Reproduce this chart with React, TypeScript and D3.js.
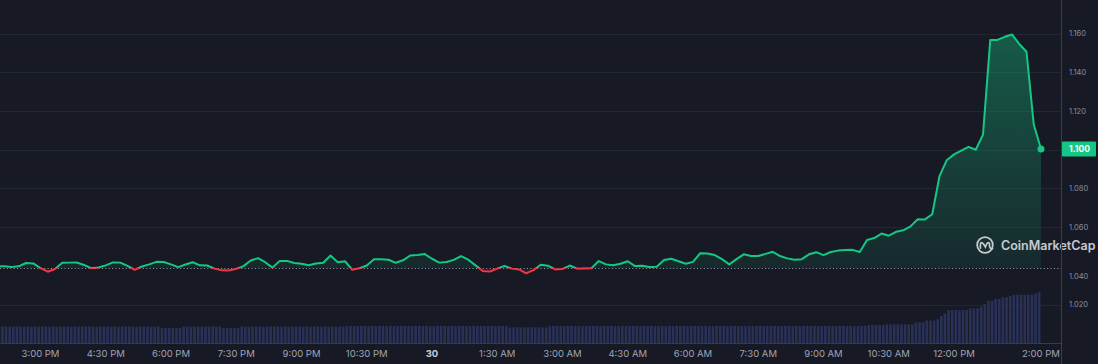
import React, { useEffect, useRef } from 'react';
import * as d3 from 'd3';

// 24h window, 2:00 PM (29th) -> 2:00 PM (30th)
const startTime = new Date(2024, 3, 29, 14, 0);
const priceStepMin = 10;
const volumeStepMin = 5;

// price every 10 minutes
const prices = [
  1.0398, 1.0398, 1.0395, 1.0398, 1.0415, 1.0413, 1.0389, 1.0370, 1.0384, 1.0416, 1.0417, 1.0418,
  1.0405, 1.0388, 1.0392, 1.0403, 1.0418, 1.0417, 1.0400, 1.0380, 1.0397, 1.0408, 1.0421, 1.0420,
  1.0408, 1.0394, 1.0407, 1.0419, 1.0403, 1.0402, 1.0386, 1.0377, 1.0376, 1.0385, 1.0399, 1.0428,
  1.0440, 1.0419, 1.0391, 1.0426, 1.0426, 1.0415, 1.0411, 1.0403, 1.0412, 1.0416, 1.0454, 1.0419,
  1.0424, 1.0380, 1.0388, 1.0402, 1.0435, 1.0435, 1.0432, 1.0416, 1.0429, 1.0454, 1.0456, 1.0461,
  1.0437, 1.0417, 1.0420, 1.0431, 1.0451, 1.0432, 1.0403, 1.0374, 1.0371, 1.0386, 1.0400, 1.0386,
  1.0382, 1.0362, 1.0378, 1.0406, 1.0401, 1.0382, 1.0384, 1.0402, 1.0386, 1.0387, 1.0388, 1.0425,
  1.0408, 1.0403, 1.0411, 1.0424, 1.0399, 1.0401, 1.0394, 1.0396, 1.0430, 1.0437, 1.0424, 1.0411,
  1.0421, 1.0466, 1.0464, 1.0456, 1.0435, 1.0408, 1.0435, 1.0460, 1.0451, 1.0451, 1.0462, 1.0473,
  1.0451, 1.0439, 1.0432, 1.0435, 1.0460, 1.0471, 1.0456, 1.0472, 1.0479, 1.0482, 1.0483, 1.0472,
  1.0534, 1.0544, 1.0567, 1.0556, 1.0576, 1.0584, 1.0604, 1.0641, 1.0640, 1.0667, 1.0864, 1.0946,
  1.0976, 1.0995, 1.1015, 1.1000, 1.1078, 1.1566, 1.1567, 1.1583, 1.1595, 1.1546, 1.1506, 1.1130,
  1.1004,
];

// volume every 5 minutes (millions)
const volumes = [
  1.65, 1.66, 1.64, 1.65, 1.65, 1.66, 1.65, 1.64, 1.65, 1.66, 1.65, 1.65,
  1.65, 1.64, 1.65, 1.66, 1.65, 1.65, 1.64, 1.65, 1.66, 1.65, 1.65, 1.64,
  1.65, 1.66, 1.65, 1.65, 1.64, 1.65, 1.66, 1.65, 1.65, 1.64, 1.65, 1.66,
  1.65, 1.65, 1.64, 1.65, 1.66, 1.65, 1.65, 1.64, 1.65, 1.50, 1.50, 1.51,
  1.50, 1.50, 1.51, 1.65, 1.64, 1.65, 1.66, 1.65, 1.65, 1.64, 1.65, 1.66,
  1.65, 1.65, 1.50, 1.51, 1.50, 1.50, 1.51, 1.65, 1.64, 1.65, 1.66, 1.65,
  1.65, 1.64, 1.65, 1.66, 1.65, 1.65, 1.64, 1.65, 1.66, 1.65, 1.65, 1.64,
  1.65, 1.66, 1.65, 1.65, 1.64, 1.65, 1.66, 1.65, 1.65, 1.64, 1.65, 1.66,
  1.70, 1.71, 1.70, 1.69, 1.70, 1.71, 1.70, 1.70, 1.69, 1.70, 1.71, 1.70,
  1.70, 1.69, 1.70, 1.71, 1.70, 1.70, 1.69, 1.70, 1.71, 1.70, 1.70, 1.69,
  1.70, 1.71, 1.70, 1.70, 1.69, 1.70, 1.71, 1.70, 1.70, 1.69, 1.70, 1.71,
  1.70, 1.70, 1.69, 1.70, 1.71, 1.70, 1.70, 1.69, 1.70, 1.57, 1.57, 1.58,
  1.57, 1.56, 1.57, 1.58, 1.57, 1.57, 1.56, 1.57, 1.70, 1.71, 1.70, 1.70,
  1.69, 1.70, 1.71, 1.70, 1.70, 1.69, 1.70, 1.71, 1.70, 1.70, 1.69, 1.70,
  1.71, 1.70, 1.70, 1.69, 1.70, 1.71, 1.70, 1.70, 1.69, 1.70, 1.71, 1.70,
  1.70, 1.69, 1.70, 1.71, 1.70, 1.70, 1.69, 1.70, 1.71, 1.70, 1.70, 1.69,
  1.70, 1.71, 1.70, 1.70, 1.69, 1.70, 1.71, 1.70, 1.70, 1.69, 1.70, 1.71,
  1.70, 1.70, 1.69, 1.70, 1.71, 1.70, 1.70, 1.69, 1.70, 1.71, 1.70, 1.70,
  1.69, 1.70, 1.71, 1.70, 1.70, 1.69, 1.70, 1.71, 1.70, 1.70, 1.69, 1.70,
  1.71, 1.70, 1.70, 1.69, 1.70, 1.71, 1.70, 1.70, 1.69, 1.70, 1.71, 1.70,
  1.80, 1.80, 1.81, 1.80, 1.80, 1.87, 1.87, 1.87, 1.87, 1.87, 1.87, 1.87,
  1.87, 2.07, 2.07, 2.07, 2.25, 2.25, 2.25, 2.37, 2.70, 2.97, 3.30, 3.30,
  3.30, 3.30, 3.30, 3.30, 3.47, 3.47, 3.47, 3.63, 3.90, 4.23, 4.23, 4.40,
  4.40, 4.57, 4.57, 4.70, 4.83, 4.83, 4.83, 4.83, 4.83, 4.83, 4.97, 5.10,
];

const openPrice = 1.0389;
const yTicks = [1.02, 1.04, 1.06, 1.08, 1.1, 1.12, 1.14, 1.16];
// hours after the start of the window
const xTickHours = [1, 2.5, 4, 5.5, 7, 8.5, 10, 11.5, 13, 14.5, 16, 17.5, 19, 20.5, 22, 24];

const BG = '#171924';
const GREEN = '#16c784';
const RED = '#ea3943';
const W = 1098;
const H = 364;
const plotRight = 1061.5;
const plotBottom = 343;

const App = () => {
  const svgRef = useRef<SVGSVGElement>(null);

  useEffect(() => {
    document.body.style.margin = '0';
    document.body.style.background = BG;
    const svg = d3.select(svgRef.current);
    svg.selectAll('*').remove();

    const endTime = d3.timeMinute.offset(startTime, 24 * 60);
    const x = d3.scaleTime().domain([startTime, endTime]).range([-3, 1041]);
    const y = d3.scaleLinear().domain([1.0002, 1.1773]).range([plotBottom, 0]);
    const yVol = d3.scaleLinear().domain([0, 6]).range([plotBottom, plotBottom - 60]);

    const priceData = prices.map((p, i) => ({ t: d3.timeMinute.offset(startTime, i * priceStepMin), p }));
    const yBase = y(openPrice);
    const last = priceData[priceData.length - 1];

    const defs = svg.append('defs');
    defs.append('clipPath').attr('id', 'clip-up')
      .append('rect').attr('x', 0).attr('y', 0).attr('width', plotRight).attr('height', yBase);
    defs.append('clipPath').attr('id', 'clip-down')
      .append('rect').attr('x', 0).attr('y', yBase).attr('width', plotRight).attr('height', plotBottom - yBase);

    const gGreen = defs.append('linearGradient').attr('id', 'g-green')
      .attr('gradientUnits', 'userSpaceOnUse').attr('x1', 0).attr('y1', 0).attr('x2', 0).attr('y2', plotBottom);
    gGreen.append('stop').attr('offset', 0).attr('stop-color', GREEN).attr('stop-opacity', 0.42);
    gGreen.append('stop').attr('offset', 1).attr('stop-color', GREEN).attr('stop-opacity', 0);
    const gRed = defs.append('linearGradient').attr('id', 'g-red')
      .attr('gradientUnits', 'userSpaceOnUse').attr('x1', 0).attr('y1', yBase).attr('x2', 0).attr('y2', plotBottom);
    gRed.append('stop').attr('offset', 0).attr('stop-color', RED).attr('stop-opacity', 0.05);
    gRed.append('stop').attr('offset', 1).attr('stop-color', RED).attr('stop-opacity', 0.3);

    svg.append('rect').attr('width', W).attr('height', H).attr('fill', BG);

    // grid lines (the one sitting on the open-price line is hidden)
    const nearBase = (v: number) => Math.abs(y(v) - yBase) < 6;
    svg.append('g').selectAll('line')
      .data(yTicks.filter(v => !nearBase(v)))
      .join('line')
      .attr('x1', 0).attr('x2', plotRight)
      .attr('y1', d => Math.round(y(d)) + 0.5).attr('y2', d => Math.round(y(d)) + 0.5)
      .attr('stroke', '#222532').attr('stroke-width', 1);

    // volume bars
    svg.append('g').selectAll('rect')
      .data(volumes)
      .join('rect')
      .attr('x', (d, j) => x(d3.timeMinute.offset(startTime, j * volumeStepMin)) + 0.5)
      .attr('width', (d, j) => {
        const t = d3.timeMinute.offset(startTime, j * volumeStepMin);
        return x(d3.timeMinute.offset(t, volumeStepMin)) - x(t) - 1;
      })
      .attr('y', d => yVol(d))
      .attr('height', d => plotBottom - yVol(d))
      .attr('fill', '#293157');

    const area = d3.area<{ t: Date; p: number }>()
      .x(d => x(d.t)).y0(yBase).y1(d => y(d.p));
    const line = d3.line<{ t: Date; p: number }>()
      .x(d => x(d.t)).y(d => y(d.p));

    svg.append('path').attr('d', area(priceData)).attr('fill', 'url(#g-green)').attr('clip-path', 'url(#clip-up)');
    svg.append('path').attr('d', area(priceData)).attr('fill', 'url(#g-red)').attr('clip-path', 'url(#clip-down)');

    // open price dotted line
    svg.append('line')
      .attr('x1', 0).attr('x2', plotRight)
      .attr('y1', Math.round(yBase) + 0.5).attr('y2', Math.round(yBase) + 0.5)
      .attr('stroke', '#9a9fb0').attr('stroke-width', 1).attr('stroke-dasharray', '1 2.4');

    svg.append('path').attr('d', line(priceData)).attr('fill', 'none')
      .attr('stroke', GREEN).attr('stroke-width', 2).attr('stroke-linejoin', 'round')
      .attr('clip-path', 'url(#clip-up)');
    svg.append('path').attr('d', line(priceData)).attr('fill', 'none')
      .attr('stroke', RED).attr('stroke-width', 2).attr('stroke-linejoin', 'round')
      .attr('clip-path', 'url(#clip-down)');

    svg.append('circle').attr('cx', x(last.t)).attr('cy', y(last.p)).attr('r', 3.5).attr('fill', GREEN);

    // watermark
    const wm = svg.append('g').attr('transform', 'translate(985,245)').attr('opacity', 0.85);
    wm.append('circle').attr('r', 7.8).attr('fill', 'none').attr('stroke', '#e4e6ec').attr('stroke-width', 1.8);
    wm.append('path')
      .attr('d', 'M-4.6,3.2 L-4.6,0 Q-4.4,-4.2 -1.6,-1.2 L0.4,2 Q2.6,-4.6 4.4,-1.4 L4.6,1.6 Q5.4,4.4 7.6,3.6')
      .attr('fill', 'none').attr('stroke', '#e4e6ec').attr('stroke-width', 1.7).attr('stroke-linecap', 'round');
    svg.append('text').attr('x', 1001).attr('y', 250)
      .style('font-family', 'Inter, sans-serif').style('font-size', '12.5px').style('font-weight', 600)
      .attr('fill', '#e4e6ec').attr('opacity', 0.85)
      .text('CoinMarketCap');

    // axis borders
    svg.append('line').attr('x1', 0).attr('x2', plotRight).attr('y1', plotBottom + 0.5).attr('y2', plotBottom + 0.5)
      .attr('stroke', '#363a4a');
    svg.append('line').attr('x1', plotRight).attr('x2', plotRight).attr('y1', 0).attr('y2', H)
      .attr('stroke', '#3a3e4e');

    // y labels (the one under the last-price tag is covered by it)
    svg.append('g').selectAll('text')
      .data(yTicks.filter(v => Math.abs(y(v) - y(last.p)) > 9))
      .join('text')
      .attr('x', 1069)
      .attr('y', d => y(d) + (nearBase(d) ? 10 : 0))
      .attr('dy', '0.35em')
      .style('font-family', 'Inter, sans-serif').style('font-size', '7.5px')
      .attr('fill', '#8b90a2')
      .text(d => d3.format('.3f')(d));

    // last price tag
    svg.append('rect').attr('x', plotRight + 0.5).attr('y', y(last.p) - 7.5).attr('width', 34).attr('height', 15)
      .attr('rx', 1).attr('fill', GREEN);
    svg.append('text').attr('x', 1069).attr('y', y(last.p)).attr('dy', '0.35em')
      .style('font-family', 'Inter, sans-serif').style('font-size', '8.5px').style('font-weight', 700)
      .attr('fill', '#ffffff')
      .text(d3.format('.3f')(last.p));

    // x labels
    const fmtTime = d3.timeFormat('%-I:%M %p');
    const fmtDay = d3.timeFormat('%-d');
    const isMidnight = (d: Date) => d.getHours() === 0 && d.getMinutes() === 0;
    svg.append('g').selectAll('text')
      .data(xTickHours.map(h => d3.timeMinute.offset(startTime, h * 60)))
      .join('text')
      .attr('x', d => x(d))
      .attr('y', 354)
      .attr('dy', '0.35em')
      .attr('text-anchor', 'middle')
      .style('font-family', 'Inter, sans-serif')
      .style('font-size', '9.5px')
      .style('font-weight', d => (isMidnight(d) ? 700 : 400))
      .attr('fill', d => (isMidnight(d) ? '#c9ccd6' : '#a0a5b5'))
      .text(d => (isMidnight(d) ? fmtDay(d) : fmtTime(d)));
  }, []);

  return <svg ref={svgRef} width={W} height={H} style={{ display: 'block' }}></svg>;
};

export default App;
